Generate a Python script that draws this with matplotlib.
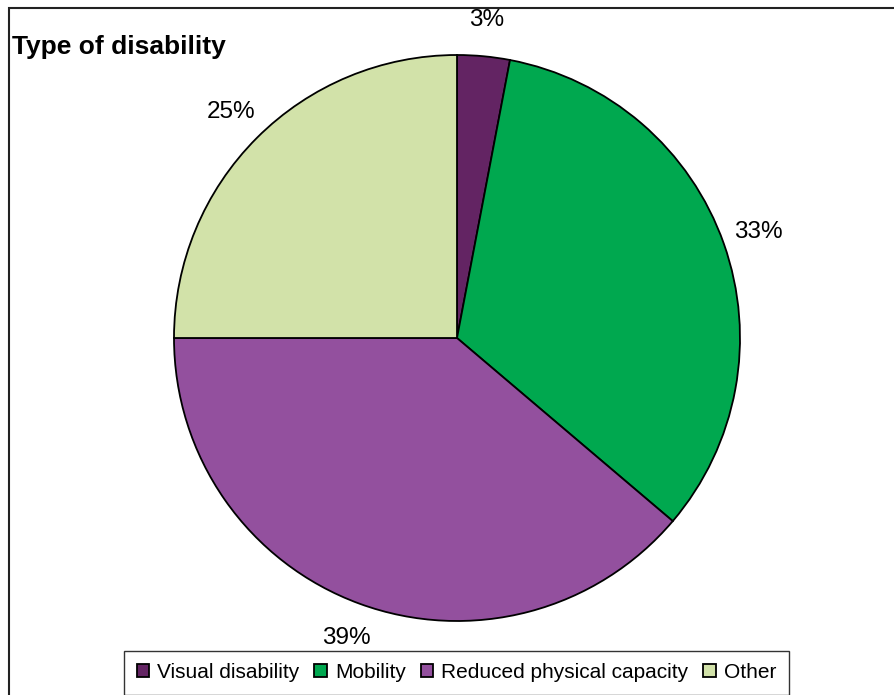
import matplotlib
matplotlib.use("Agg")
import matplotlib.pyplot as plt
from matplotlib.patches import Rectangle

plt.rcParams['font.family'] = ['Liberation Sans', 'DejaVu Sans']

categories = ["Visual disability", "Mobility", "Reduced physical capacity", "Other"]
values = [3.0, 33.2, 38.8, 25.0]
colors = ["#632463", "#00A84F", "#93509E", "#D2E2A9"]
title = "Type of disability"

W, H = 895, 695
fig = plt.figure(figsize=(W / 100, H / 100), dpi=100)

cx, cy, r = 457, 338, 283
ax = fig.add_axes([(cx - r) / W, (H - cy - r) / H, 2 * r / W, 2 * r / H])
wedges, texts, autotexts = ax.pie(
    values, colors=colors, startangle=90, counterclock=False, radius=1,
    autopct=lambda p: f"{p:.0f}%", pctdistance=1.13,
    wedgeprops=dict(edgecolor="black", linewidth=1.3),
    textprops=dict(fontsize=17.5, color="black"))
ax.set_xlim(-1, 1)
ax.set_ylim(-1, 1)
ax.set_aspect('auto')
ax.axis('off')

fig.text(12 / W, 1 - 47 / H, title, fontsize=19, fontweight='bold', va='center', ha='left')

leg = fig.legend(wedges, categories, loc='center', bbox_to_anchor=(456.5 / W, 1 - 672.5 / H),
                 ncol=4, frameon=True, fancybox=False, fontsize=15,
                 handlelength=0.6, handleheight=0.6, handletextpad=0.4, columnspacing=0.7,
                 borderpad=0.6, edgecolor='black')
leg.get_frame().set_linewidth(1.0)

fig.patches.append(Rectangle((9 / W, -0.1), 1.2, 1.1 - 8 / H, transform=fig.transFigure,
                             fill=False, edgecolor='#222222', linewidth=1.5))

fig.savefig("out.png", dpi=100)
